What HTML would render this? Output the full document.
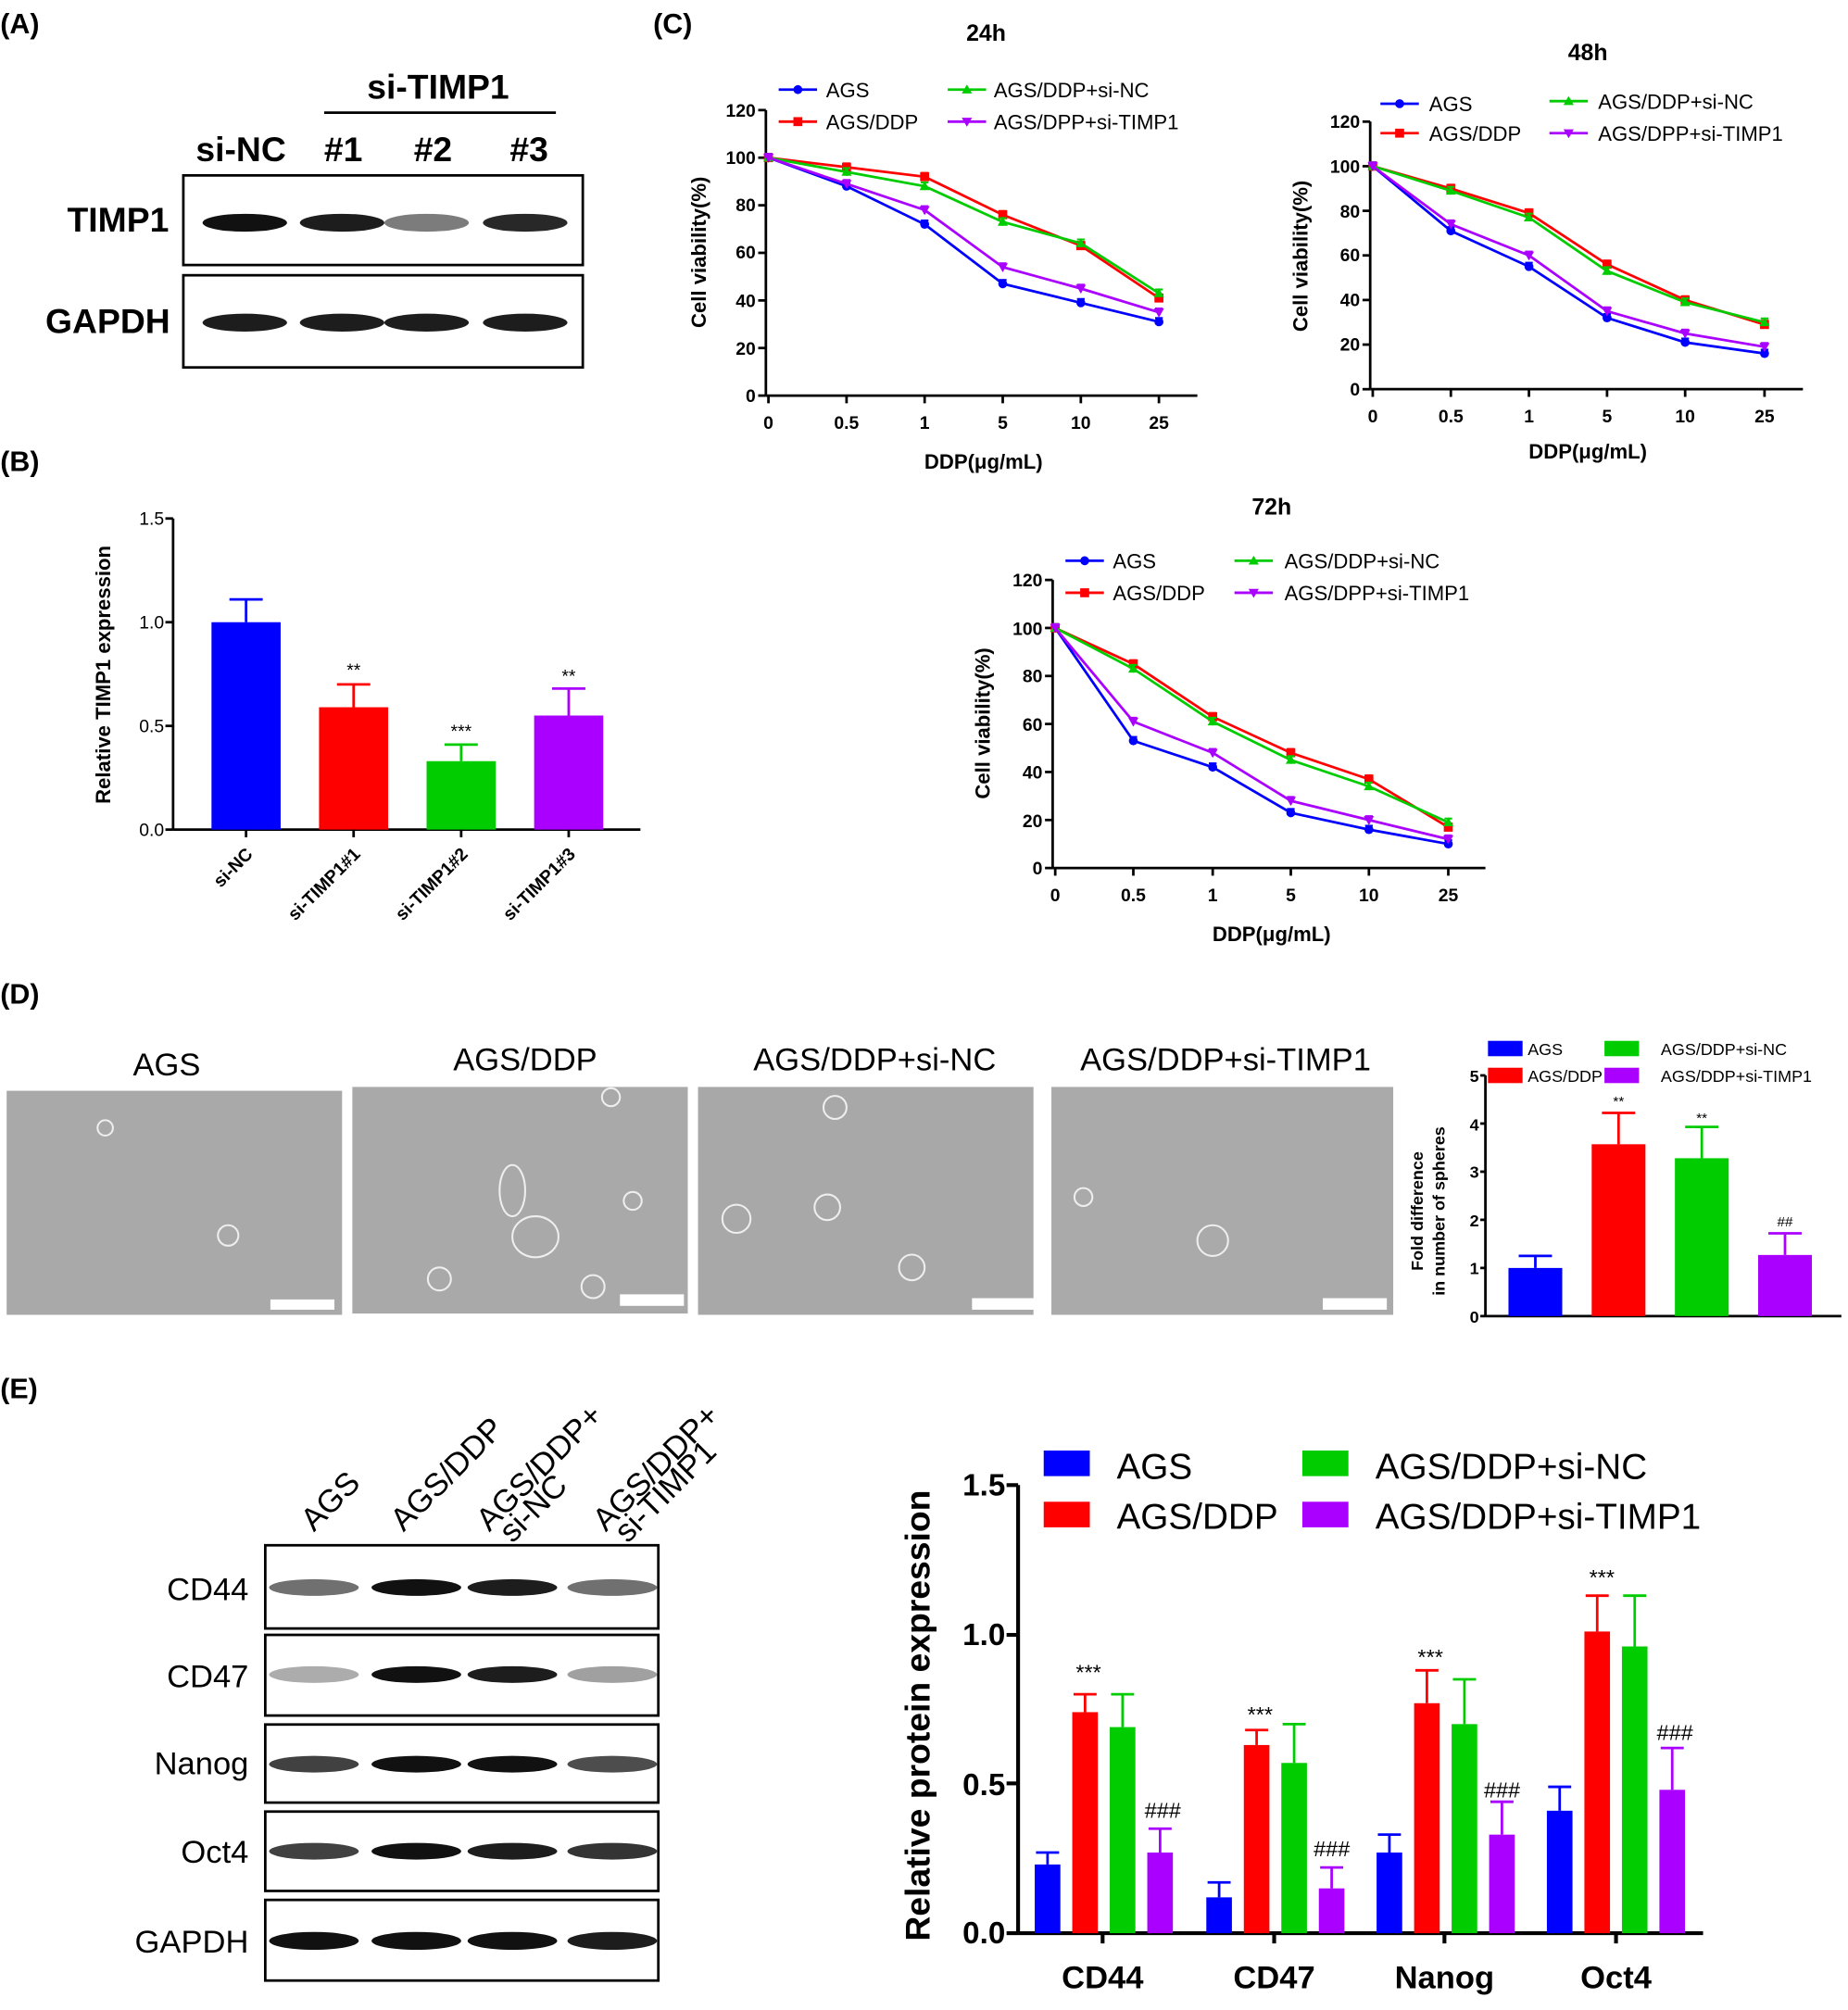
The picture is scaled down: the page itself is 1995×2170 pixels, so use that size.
<!DOCTYPE html><html><head><meta charset="utf-8"><style>body{margin:0;background:#fff}svg{display:block}text{font-family:"Liberation Sans",Arial,sans-serif}</style></head><body>
<svg id="s" width="1995" height="2170" viewBox="0 0 1443 1570" xmlns="http://www.w3.org/2000/svg">
<g font-weight="bold" font-size="22">
<text x="0" y="26">(A)</text><text x="0" y="368">(B)</text><text x="510" y="26">(C)</text><text x="0" y="784">(D)</text><text x="0" y="1092">(E)</text></g>
<!-- A -->
<g font-size="27" font-weight="bold" text-anchor="middle">
<text x="342" y="77">si-TIMP1</text><text x="188" y="126">si-NC</text><text x="268" y="126">#1</text><text x="338" y="126">#2</text><text x="413" y="126">#3</text>
<text x="92" y="181">TIMP1</text><text x="84" y="260">GAPDH</text></g>
<line x1="253" y1="88" x2="434" y2="88" stroke="#000" stroke-width="2"/>
<rect x="143" y="137" width="312" height="70" fill="none" stroke="#000" stroke-width="2"/>
<rect x="143" y="215" width="312" height="72" fill="none" stroke="#000" stroke-width="2"/>
<!-- B -->
<g font-size="14" text-anchor="end"><text x="128" y="410">1.5</text><text x="128" y="491">1.0</text><text x="128" y="572">0.5</text><text x="128" y="653">0.0</text></g>
<text transform="translate(86,527) rotate(-90)" font-size="16" font-weight="bold" text-anchor="middle">Relative TIMP1 expression</text>
<g font-size="14" font-weight="bold" text-anchor="end">
<text transform="translate(198,668) rotate(-45)">si-NC</text><text transform="translate(282,668) rotate(-45)">si-TIMP1#1</text><text transform="translate(366,668) rotate(-45)">si-TIMP1#2</text><text transform="translate(450,668) rotate(-45)">si-TIMP1#3</text></g>
<!-- C text -->
<g font-size="18" font-weight="bold" text-anchor="middle"><text x="770" y="32">24h</text><text x="1240" y="47">48h</text><text x="993" y="402">72h</text></g>
<g font-size="16" font-weight="bold" text-anchor="middle"><text x="768" y="366">DDP(μg/mL)</text><text x="1240" y="358">DDP(μg/mL)</text><text x="993" y="735">DDP(μg/mL)</text>
<text transform="translate(551,197) rotate(-90)">Cell viability(%)</text><text transform="translate(1021,200) rotate(-90)">Cell viability(%)</text><text transform="translate(773,565) rotate(-90)">Cell viability(%)</text></g>
<g font-size="14" font-weight="bold" text-anchor="end">
<text x="590" y="314">0</text><text x="590" y="277">20</text><text x="590" y="240">40</text><text x="590" y="202">60</text><text x="590" y="165">80</text><text x="590" y="128">100</text><text x="590" y="91">120</text>
<text x="1062" y="309">0</text><text x="1062" y="274">20</text><text x="1062" y="239">40</text><text x="1062" y="204">60</text><text x="1062" y="170">80</text><text x="1062" y="135">100</text><text x="1062" y="100">120</text>
<text x="814" y="683">0</text><text x="814" y="646">20</text><text x="814" y="608">40</text><text x="814" y="571">60</text><text x="814" y="533">80</text><text x="814" y="496">100</text><text x="814" y="458">120</text></g>
<g font-size="14" font-weight="bold" text-anchor="middle">
<text x="600" y="335">0</text><text x="661" y="335">0.5</text><text x="722" y="335">1</text><text x="783" y="335">5</text><text x="844" y="335">10</text><text x="905" y="335">25</text>
<text x="1072" y="330">0</text><text x="1133" y="330">0.5</text><text x="1194" y="330">1</text><text x="1255" y="330">5</text><text x="1316" y="330">10</text><text x="1378" y="330">25</text>
<text x="824" y="704">0</text><text x="885" y="704">0.5</text><text x="947" y="704">1</text><text x="1008" y="704">5</text><text x="1069" y="704">10</text><text x="1131" y="704">25</text></g>
<g font-size="16">
<text x="645" y="76">AGS</text><text x="645" y="101">AGS/DDP</text><text x="776" y="76">AGS/DDP+si-NC</text><text x="776" y="101">AGS/DPP+si-TIMP1</text>
<text x="1116" y="87">AGS</text><text x="1116" y="110">AGS/DDP</text><text x="1248" y="85">AGS/DDP+si-NC</text><text x="1248" y="110">AGS/DPP+si-TIMP1</text>
<text x="869" y="444">AGS</text><text x="869" y="469">AGS/DDP</text><text x="1003" y="444">AGS/DDP+si-NC</text><text x="1003" y="469">AGS/DPP+si-TIMP1</text></g>
<!-- D -->
<g font-size="25" text-anchor="middle"><text x="130" y="840">AGS</text><text x="410" y="836">AGS/DDP</text><text x="683" y="836">AGS/DDP+si-NC</text><text x="957" y="836">AGS/DDP+si-TIMP1</text></g>
<rect x="5" y="852" width="262" height="175" fill="#a9a9a9"/><rect x="275" y="849" width="262" height="177" fill="#a9a9a9"/><rect x="545" y="849" width="262" height="178" fill="#a8a8a8"/><rect x="821" y="849" width="267" height="178" fill="#aaa"/>
<g fill="#fff"><rect x="211" y="1015" width="50" height="8"/><rect x="484" y="1011" width="50" height="9"/><rect x="759" y="1014" width="50" height="9"/><rect x="1033" y="1014" width="50" height="9"/></g>
<g fill="none" stroke="#eee" stroke-width="1.5"><circle cx="82" cy="881" r="6"/><circle cx="178" cy="965" r="8"/><ellipse cx="400" cy="930" rx="10" ry="20"/><ellipse cx="418" cy="966" rx="18" ry="16"/><circle cx="343" cy="999" r="9"/><circle cx="463" cy="1005" r="9"/><circle cx="494" cy="938" r="7"/><circle cx="477" cy="857" r="7"/><circle cx="575" cy="952" r="11"/><circle cx="646" cy="943" r="10"/><circle cx="652" cy="865" r="9"/><circle cx="712" cy="990" r="10"/><circle cx="947" cy="969" r="12"/><circle cx="846" cy="935" r="7"/></g>
<g font-size="13" text-anchor="end" font-weight="bold"><text x="1155" y="1033">0</text><text x="1155" y="995">1</text><text x="1155" y="958">2</text><text x="1155" y="920">3</text><text x="1155" y="883">4</text><text x="1155" y="845">5</text></g>
<text transform="translate(1111,946) rotate(-90)" font-size="13" font-weight="bold" text-anchor="middle">Fold difference</text>
<text transform="translate(1128,946) rotate(-90)" font-size="13" font-weight="bold" text-anchor="middle">in number of spheres</text>
<g font-size="13"><rect x="1162" y="813" width="27" height="12" fill="#00f"/><text x="1193" y="824">AGS</text><rect x="1162" y="834" width="27" height="12" fill="#f00"/><text x="1193" y="845">AGS/DDP</text><rect x="1253" y="813" width="27" height="12" fill="#0c0"/><text x="1297" y="824">AGS/DDP+si-NC</text><rect x="1253" y="834" width="27" height="12" fill="#a0f"/><text x="1297" y="845">AGS/DDP+si-TIMP1</text></g>
<!-- E -->
<g font-size="25" text-anchor="start">
<text transform="translate(245,1197) rotate(-45)">AGS</text><text transform="translate(315,1197) rotate(-45)">AGS/DDP</text><text transform="translate(382,1197) rotate(-45)">AGS/DDP+</text><text transform="translate(400,1206) rotate(-45)">si-NC</text><text transform="translate(473,1197) rotate(-45)">AGS/DDP+</text><text transform="translate(490,1206) rotate(-45)">si-TIMP1</text></g>
<g font-size="25" text-anchor="end"><text x="194" y="1250">CD44</text><text x="194" y="1318">CD47</text><text x="194" y="1386">Nanog</text><text x="194" y="1455">Oct4</text><text x="194" y="1525">GAPDH</text></g>
<g fill="none" stroke="#000" stroke-width="2"><rect x="207" y="1207" width="307" height="65"/><rect x="207" y="1277" width="307" height="63"/><rect x="207" y="1347" width="307" height="61"/><rect x="207" y="1415" width="307" height="62"/><rect x="207" y="1484" width="307" height="63"/></g>
<g font-size="24" font-weight="bold" text-anchor="end"><text x="785" y="1518">0.0</text><text x="785" y="1402">0.5</text><text x="785" y="1285">1.0</text><text x="785" y="1168">1.5</text></g>
<text transform="translate(726,1340) rotate(-90)" font-size="27" font-weight="bold" text-anchor="middle">Relative protein expression</text>
<g font-size="25" font-weight="bold" text-anchor="middle"><text x="861" y="1553">CD44</text><text x="995" y="1553">CD47</text><text x="1128" y="1553">Nanog</text><text x="1262" y="1553">Oct4</text></g>
<g font-size="28"><rect x="815" y="1133" width="36" height="20" fill="#00f"/><text x="872" y="1155">AGS</text><rect x="815" y="1173" width="36" height="20" fill="#f00"/><text x="872" y="1194">AGS/DDP</text><rect x="1017" y="1133" width="36" height="20" fill="#0c0"/><text x="1074" y="1155">AGS/DDP+si-NC</text><rect x="1017" y="1173" width="36" height="20" fill="#a0f"/><text x="1074" y="1194">AGS/DDP+si-TIMP1</text></g>
<g id="dyn"></g>
<!-- annotations on top -->
<g font-size="14" text-anchor="middle"><text x="276" y="528">**</text><text x="360" y="576">***</text><text x="444" y="533">**</text></g>
<g font-size="11" text-anchor="middle"><text x="1264" y="864">**</text><text x="1329" y="877">**</text><text x="1394" y="958">##</text></g>
<g font-size="17" text-anchor="middle"><text x="850" y="1312">***</text><text x="984" y="1345">***</text><text x="1117" y="1300">***</text><text x="1251" y="1238">***</text><text x="908" y="1420">###</text><text x="1040" y="1450">###</text><text x="1173" y="1404">###</text><text x="1308" y="1359">###</text></g>
</svg>
<script>
var NS="http://www.w3.org/2000/svg",g=document.getElementById("dyn");
function el(t,a){var e=document.createElementNS(NS,t);for(var k in a)e.setAttribute(k,a[k]);g.appendChild(e);return e}
function ln(x1,y1,x2,y2,c,w){el("line",{x1:x1,y1:y1,x2:x2,y2:y2,stroke:c||"#000","stroke-width":w||2})}
function band(x,y,w,h,d){el("ellipse",{cx:x,cy:y,rx:w/2,ry:h/2,fill:"#111",opacity:d})}
[[191,1],[267,.95],[333,.55],[410,.9]].forEach(function(b){band(b[0],174,66,14,b[1]);band(b[0],252,66,14,.95)});
var ex=[245,325,400,478];
[[.6,1,.95,.6],[.35,1,.95,.4],[.8,1,1,.75],[.8,1,.95,.85],[1,1,1,.95]].forEach(function(r,i){var ys=[1240,1308,1378,1446,1516][i];r.forEach(function(d,j){band(ex[j],ys,70,i==4?14:13,d)})});
// B
ln(135,405,135,648);ln(135,648,500,648);[405,486,567,648].forEach(function(y){ln(129,y,135,y)});
[[192,1,.11,"#00f"],[276,.59,.11,"#f00"],[360,.33,.08,"#0c0"],[444,.55,.13,"#a0f"]].forEach(function(b){var y0=648,s=162,top=y0-b[1]*s,e=y0-(b[1]+b[2])*s;ln(b[0],top,b[0],e,b[3]);ln(b[0]-13,e,b[0]+13,e,b[3]);el("rect",{x:b[0]-27,y:top,width:54,height:y0-top,fill:b[3]})});
[192,276,360,444].forEach(function(x){ln(x,648,x,654)});
// C
var cols=["#00f","#f00","#0c0","#a0f"],mk=["c","s","t","v"];
function marker(x,y,t,c){if(t=="c")el("circle",{cx:x,cy:y,r:3.5,fill:c});else if(t=="s")el("rect",{x:x-3.5,y:y-3.5,width:7,height:7,fill:c});else if(t=="t")el("polygon",{points:(x-4)+","+(y+3)+" "+(x+4)+","+(y+3)+" "+x+","+(y-4),fill:c});else el("polygon",{points:(x-4)+","+(y-3)+" "+(x+4)+","+(y-3)+" "+x+","+(y+4),fill:c})}
function chart(ax,y0,ytop,xs,data,xend,leg){ln(ax-2,ytop,ax-2,y0);ln(ax-2,y0,xend,y0);for(var i=0;i<=6;i++){var y=y0-(y0-ytop)*i/6;ln(ax-8,y,ax-2,y)}xs.forEach(function(x){ln(x,y0,x,y0+6)});var s=(y0-ytop)/120;
data.forEach(function(d,k){var p=d.map(function(v,i){return xs[i]+","+(y0-v*s)}).join(" ");el("polyline",{points:p,fill:"none",stroke:cols[k],"stroke-width":2});d.forEach(function(v,i){var y=y0-v*s;ln(xs[i],y-3,xs[i],y+3,cols[k],1.5);ln(xs[i]-3,y-3,xs[i]+3,y-3,cols[k],1.5);marker(xs[i],y,mk[k],cols[k])})});
leg.forEach(function(l,k){ln(l[0],l[1],l[0]+30,l[1],cols[k],2);marker(l[0]+15,l[1],mk[k],cols[k])})}
chart(600,309,86,[600,661,722,783,844,905],[[100,88,72,47,39,31],[100,96,92,76,63,41],[100,94,88,73,64,43],[100,89,78,54,45,35]],935,[[608,70],[608,95],[740,70],[740,95]]);
chart(1072,304,95,[1072,1133,1194,1255,1316,1378],[[100,71,55,32,21,16],[100,90,79,56,40,29],[100,89,77,53,39,30],[100,74,60,35,25,19]],1408,[[1078,81],[1078,104],[1210,79],[1210,104]]);
chart(824,678,453,[824,885,947,1008,1069,1131],[[100,53,42,23,16,10],[100,85,63,48,37,17],[100,83,61,45,34,19],[100,61,48,28,20,12]],1160,[[832,438],[832,463],[964,438],[964,463]]);
// D bars
var U=37.6;ln(1160,840,1160,1028);ln(1160,1028,1438,1028);for(var i=0;i<=5;i++){ln(1156,1028-U*i,1160,1028-U*i)}
[[1199,1,.25],[1264,3.57,.65],[1329,3.28,.65],[1394,1.27,.45]].forEach(function(b,k){var top=1028-U*b[1],e=1028-U*(b[1]+b[2]);ln(b[0],top,b[0],e,cols[k]);ln(b[0]-13,e,b[0]+13,e,cols[k]);el("rect",{x:b[0]-21,y:top,width:42,height:1028-top,fill:cols[k]})});
// E bars
ln(795,1160,795,1510,"#000",3);ln(795,1510,1330,1510,"#000",3);[1160,1277,1393,1510].forEach(function(y){ln(786,y,795,y,"#000",3)});
var groups=[[818,[.23,.74,.69,.27],[.04,.06,.11,.08]],[952,[.12,.63,.57,.15],[.05,.05,.13,.07]],[1085,[.27,.77,.70,.33],[.06,.11,.15,.11]],[1218,[.41,1.01,.96,.48],[.08,.12,.17,.14]]];
groups.forEach(function(g2){g2[1].forEach(function(v,k){var x=g2[0]+k*29.3,top=1510-233.3*v,e=1510-233.3*(v+g2[2][k]);ln(x,top,x,e,cols[k]);ln(x-9,e,x+9,e,cols[k]);el("rect",{x:x-10,y:top,width:20,height:1510-top,fill:cols[k]})})});
[861,995,1128,1262].forEach(function(x){ln(x,1510,x,1518,"#000",3)});
</script></body></html>
